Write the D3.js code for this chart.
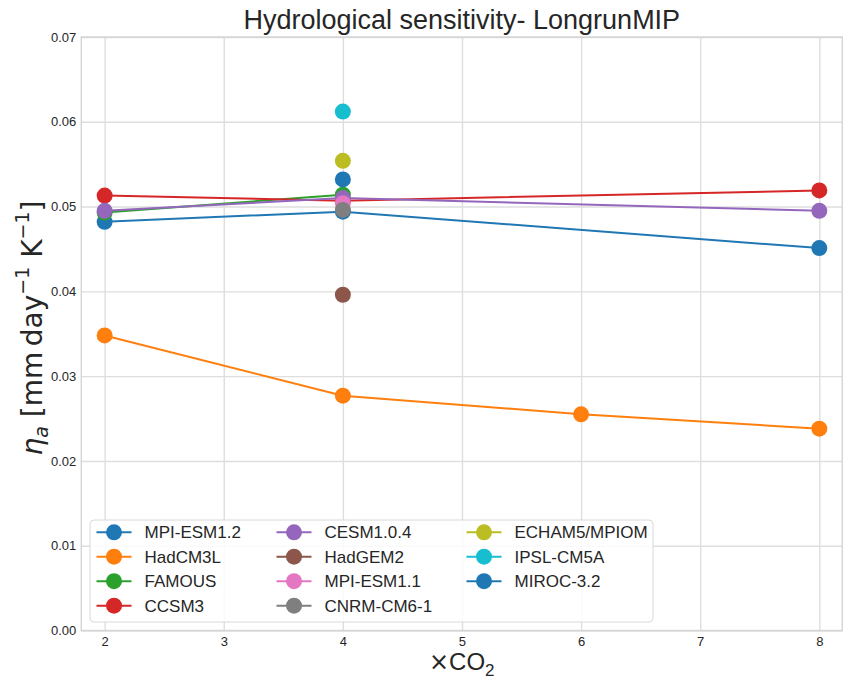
<!DOCTYPE html>
<html>
<head>
<meta charset="utf-8">
<script src="https://cdn.jsdelivr.net/npm/d3@7"></script>
<style>
  html, body { margin: 0; padding: 0; background: #ffffff; }
  svg { display: block; font-family: "Liberation Sans", Arial, sans-serif; }
</style>
</head>
<body>
<svg id="chart" width="843" height="680"></svg>
<script>
// ---- data ----
const modelNames = ["MPI-ESM1.2", "HadCM3L", "FAMOUS", "CCSM3", "CESM1.0.4", "HadGEM2",
                    "MPI-ESM1.1", "CNRM-CM6-1", "ECHAM5/MPIOM", "IPSL-CM5A", "MIROC-3.2"];
const modelColors = ["#1f77b4", "#ff7f0e", "#2ca02c", "#d62728", "#9467bd", "#8c564b",
                     "#e377c2", "#7f7f7f", "#bcbd22", "#17becf", "#1f77b4"];
const co2Multiples = [
  [2, 4, 8],
  [2, 4, 6, 8],
  [2, 4],
  [2, 4, 8],
  [2, 4, 8],
  [4],
  [4],
  [4],
  [4],
  [4],
  [4]
];
const etaValues = [
  [0.0482, 0.0494, 0.0451],
  [0.0348, 0.0277, 0.0255, 0.0238],
  [0.0493, 0.0514],
  [0.0513, 0.0507, 0.0519],
  [0.0495, 0.0510, 0.0495],
  [0.0396],
  [0.0504],
  [0.0496],
  [0.0554],
  [0.0612],
  [0.0532]
];
const xTicks = [2, 3, 4, 5, 6, 7, 8];
const yTicks = [0.00, 0.01, 0.02, 0.03, 0.04, 0.05, 0.06, 0.07];
const titleText = "Hydrological sensitivity- LongrunMIP";

// ---- layout ----
const svg = d3.select("#chart");
const plot = { left: 81.3, right: 842.3, top: 37, bottom: 630.5 };
const x = d3.scaleLinear().domain([1.804, 8.193]).range([plot.left, plot.right]);
const y = d3.scaleLinear().domain([0, 0.07]).range([plot.bottom, plot.top]);
const gridColor = "#dedede";
const textColor = "#262626";

// grid
const gx = svg.append("g")
  .attr("transform", `translate(0,${plot.bottom})`)
  .call(d3.axisBottom(x).tickValues(xTicks).tickSize(-(plot.bottom - plot.top)).tickPadding(5).tickFormat(d3.format("d")));
const gy = svg.append("g")
  .attr("transform", `translate(${plot.left},0)`)
  .call(d3.axisLeft(y).tickValues(yTicks).tickSize(-(plot.right - plot.left)).tickPadding(5).tickFormat(d3.format(".2f")));
[gx, gy].forEach(g => {
  g.select(".domain").remove();
  g.selectAll(".tick line").attr("stroke", gridColor).attr("stroke-width", 1.4);
  g.selectAll(".tick text").attr("fill", textColor).style("font-size", "13px")
    .style("font-family", "'Liberation Sans', Arial, sans-serif");
});
gx.selectAll(".tick text").attr("dy", "0.8em");

// spines
svg.append("rect")
  .attr("x", plot.left).attr("y", plot.top)
  .attr("width", plot.right - plot.left).attr("height", plot.bottom - plot.top)
  .attr("fill", "none").attr("stroke", "#d4d4d4").attr("stroke-width", 1.4);

// series
const line = d3.line().x(d => x(d[0])).y(d => y(d[1]));
modelNames.forEach((name, i) => {
  const pts = co2Multiples[i].map((c, j) => [c, etaValues[i][j]]);
  const g = svg.append("g");
  if (pts.length > 1) {
    g.append("path").datum(pts).attr("d", line)
      .attr("fill", "none").attr("stroke", modelColors[i]).attr("stroke-width", 2);
  }
  g.selectAll("circle").data(pts).join("circle")
    .attr("cx", d => x(d[0])).attr("cy", d => y(d[1])).attr("r", 8)
    .attr("fill", modelColors[i]);
});

// title
svg.append("text")
  .attr("x", (plot.left + plot.right) / 2).attr("y", 29)
  .attr("text-anchor", "middle").attr("fill", textColor)
  .style("font-size", "27px").text(titleText);

// x label
const xl = svg.append("text")
  .attr("x", (plot.left + plot.right) / 2).attr("y", 670)
  .attr("text-anchor", "middle").attr("fill", textColor)
  .style("font-size", "24px");
xl.append("tspan").style("font-family", "'DejaVu Sans', sans-serif").text("×");
xl.append("tspan").text("CO");
xl.append("tspan").attr("dy", 6).style("font-size", "17px").text("2");

// y label
const yl = svg.append("text")
  .attr("transform", `translate(42,328) rotate(-90)`)
  .attr("text-anchor", "middle").attr("fill", textColor)
  .style("font-family", "'DejaVu Sans', sans-serif")
  .style("font-size", "28px");
yl.append("tspan").style("font-style", "italic").text("η");
yl.append("tspan").attr("dy", 6).style("font-size", "19px").style("font-style", "italic").text("a");
yl.append("tspan").attr("dy", -6).text(" [mm\u2009day");
yl.append("tspan").attr("dy", -13).style("font-size", "19px").text("−1");
yl.append("tspan").attr("dy", 13).text(" K");
yl.append("tspan").attr("dy", -13).style("font-size", "19px").text("−1");
yl.append("tspan").attr("dy", 13).text("]");

// legend
const legend = { x: 90, y: 520, w: 563, h: 102 };
svg.append("rect")
  .attr("x", legend.x).attr("y", legend.y).attr("width", legend.w).attr("height", legend.h)
  .attr("rx", 4).attr("fill", "#ffffff").attr("fill-opacity", 0.85)
  .attr("stroke", "#d8d8d8").attr("stroke-width", 1);
const colX = [96.5, 276.5, 466.5];
const rowY = [532.3, 556.7, 581.2, 605.7];
modelNames.forEach((name, i) => {
  const col = Math.floor(i / 4), row = i % 4;
  const lx = colX[col], ly = rowY[row];
  svg.append("line").attr("x1", lx).attr("x2", lx + 35).attr("y1", ly).attr("y2", ly)
    .attr("stroke", modelColors[i]).attr("stroke-width", 2);
  svg.append("circle").attr("cx", lx + 17.5).attr("cy", ly).attr("r", 8).attr("fill", modelColors[i]);
  svg.append("text").attr("x", lx + 48).attr("y", ly + 6)
    .attr("fill", textColor).style("font-size", "17px").text(name);
});
</script>
</body>
</html>
